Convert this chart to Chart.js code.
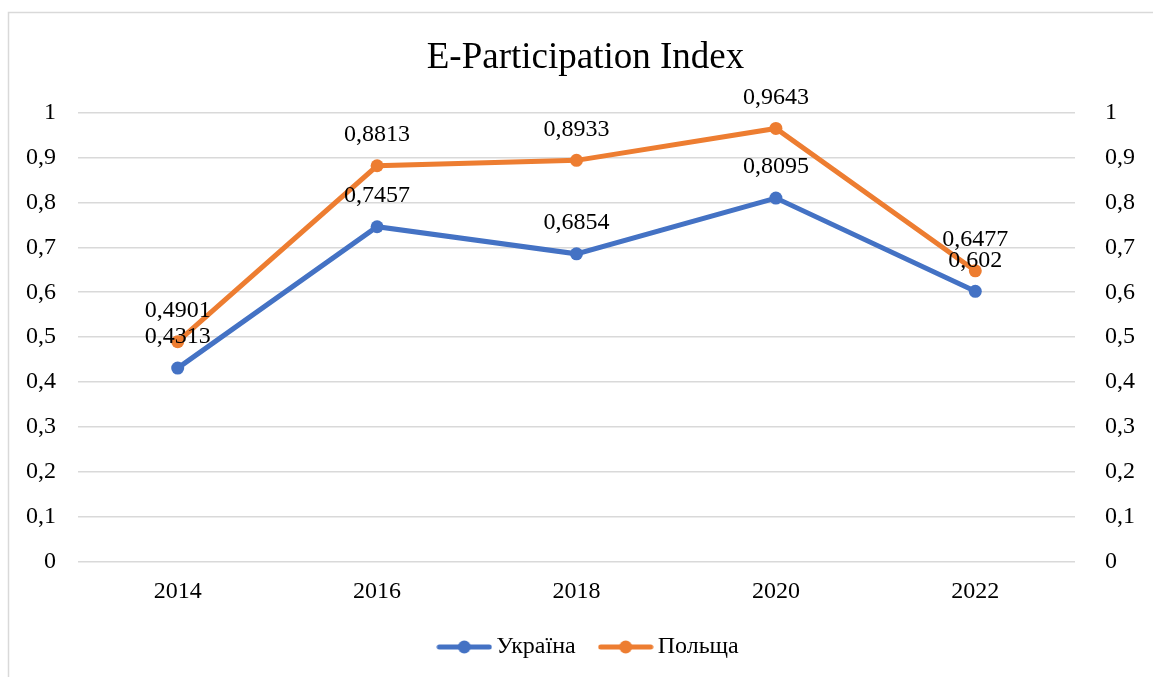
<!DOCTYPE html>
<html>
<head>
<meta charset="utf-8">
<script src="https://cdn.jsdelivr.net/npm/chart.js@4"></script>
<style>
  body { margin: 0; background: #fff; }
  canvas { display: block; }
</style>
</head>
<body>
<canvas id="chart" width="1153" height="677"></canvas>
<script>
const years = ['2014', '2016', '2018', '2020', '2022'];
const ukraine = [0.4313, 0.7457, 0.6854, 0.8095, 0.602];
const poland = [0.4901, 0.8813, 0.8933, 0.9643, 0.6477];
const seriesNames = ['Україна', 'Польща'];
const colors = ['#4472C4', '#ED7D31'];

const serif = "'Liberation Serif', 'Times New Roman', serif";

function fmt(v) {
    return String(v).replace('.', ',');
}

function legendIcon(color) {
    const c = document.createElement('canvas');
    c.width = 56;
    c.height = 14;
    const g = c.getContext('2d');
    g.strokeStyle = color;
    g.lineWidth = 5;
    g.lineCap = 'round';
    g.beginPath();
    g.moveTo(3, 7);
    g.lineTo(53, 7);
    g.stroke();
    g.fillStyle = color;
    g.beginPath();
    g.arc(28, 7, 6.5, 0, Math.PI * 2);
    g.fill();
    return c;
}

const frame = {
    id: 'frame',
    beforeDraw(chart) {
        const ctx = chart.ctx;
        ctx.save();
        ctx.strokeStyle = '#d9d9d9';
        ctx.lineWidth = 1.5;
        ctx.strokeRect(8.5, 12.5, 1300, 800);
        ctx.restore();
    }
};

// Excel-ish nudges: title and legend sit a little right of centre
const nudge = {
    id: 'nudge',
    afterLayout(chart) {
        chart.titleBlock.left += 9;
        chart.titleBlock.right += 9;
        chart.legend.left += 15;
        chart.legend.right += 15;
    }
};

const valueLabels = {
    id: 'valueLabels',
    afterDatasetsDraw(chart) {
        const ctx = chart.ctx;
        ctx.save();
        ctx.font = '24px ' + serif;
        ctx.fillStyle = '#000';
        ctx.textAlign = 'center';
        ctx.textBaseline = 'middle';
        [1, 0].forEach(i => {
            const meta = chart.getDatasetMeta(i);
            meta.data.forEach((pt, j) => {
                ctx.fillText(fmt(chart.data.datasets[i].data[j]), pt.x, pt.y - 31);
            });
        });
        ctx.restore();
    }
};

const ticks = {
    color: '#000',
    font: { family: serif, size: 24 },
    padding: 22,
    stepSize: 0.1,
    callback: v => fmt(Math.round(v * 10) / 10)
};

new Chart(document.getElementById('chart'), {
    type: 'line',
    data: {
        labels: years,
        datasets: [ukraine, poland].map((d, i) => ({
            label: seriesNames[i],
            data: d,
            borderColor: colors[i],
            backgroundColor: colors[i],
            borderWidth: 5,
            pointRadius: 6.5,
            pointHoverRadius: 6.5,
            pointBorderWidth: 0,
            pointStyle: 'circle',
            tension: 0,
            yAxisID: 'y'
        }))
    },
    options: {
        responsive: false,
        animation: false,
        layout: { padding: { top: 20, bottom: 8, left: 0, right: 0 } },
        scales: {
            x: {
                offset: true,
                grid: { display: false },
                border: { display: false },
                ticks: { color: '#000', font: { family: serif, size: 24 }, padding: 7 },
                afterFit: s => { s.height = 43; }
            },
            y: {
                position: 'left',
                min: 0,
                max: 1,
                grid: { color: '#d9d9d9', lineWidth: 1.5, drawTicks: false },
                border: { display: false },
                ticks: ticks,
                afterFit: s => { s.width = 78; }
            },
            y2: {
                position: 'right',
                min: 0,
                max: 1,
                grid: { display: false },
                border: { display: false },
                ticks: ticks,
                afterFit: s => { s.width = 78; }
            }
        },
        plugins: {
            title: {
                display: true,
                text: 'E-Participation Index',
                color: '#000',
                font: { family: serif, size: 37, weight: 'normal' },
                padding: { top: 16, bottom: 32 }
            },
            legend: {
                position: 'bottom',
                labels: {
                    color: '#000',
                    font: { family: serif, size: 24 },
                    usePointStyle: true,
                    pointStyleWidth: 40,
                    boxHeight: 14,
                    padding: 30,
                    generateLabels: chart => chart.data.datasets.map((ds, i) => ({
                        text: ds.label,
                        fontColor: '#000',
                        pointStyle: legendIcon(colors[i]),
                        datasetIndex: i,
                        hidden: false,
                        lineWidth: 0
                    }))
                }
            },
            tooltip: { enabled: false }
        }
    },
    plugins: [frame, nudge, valueLabels]
});
</script>
</body>
</html>
